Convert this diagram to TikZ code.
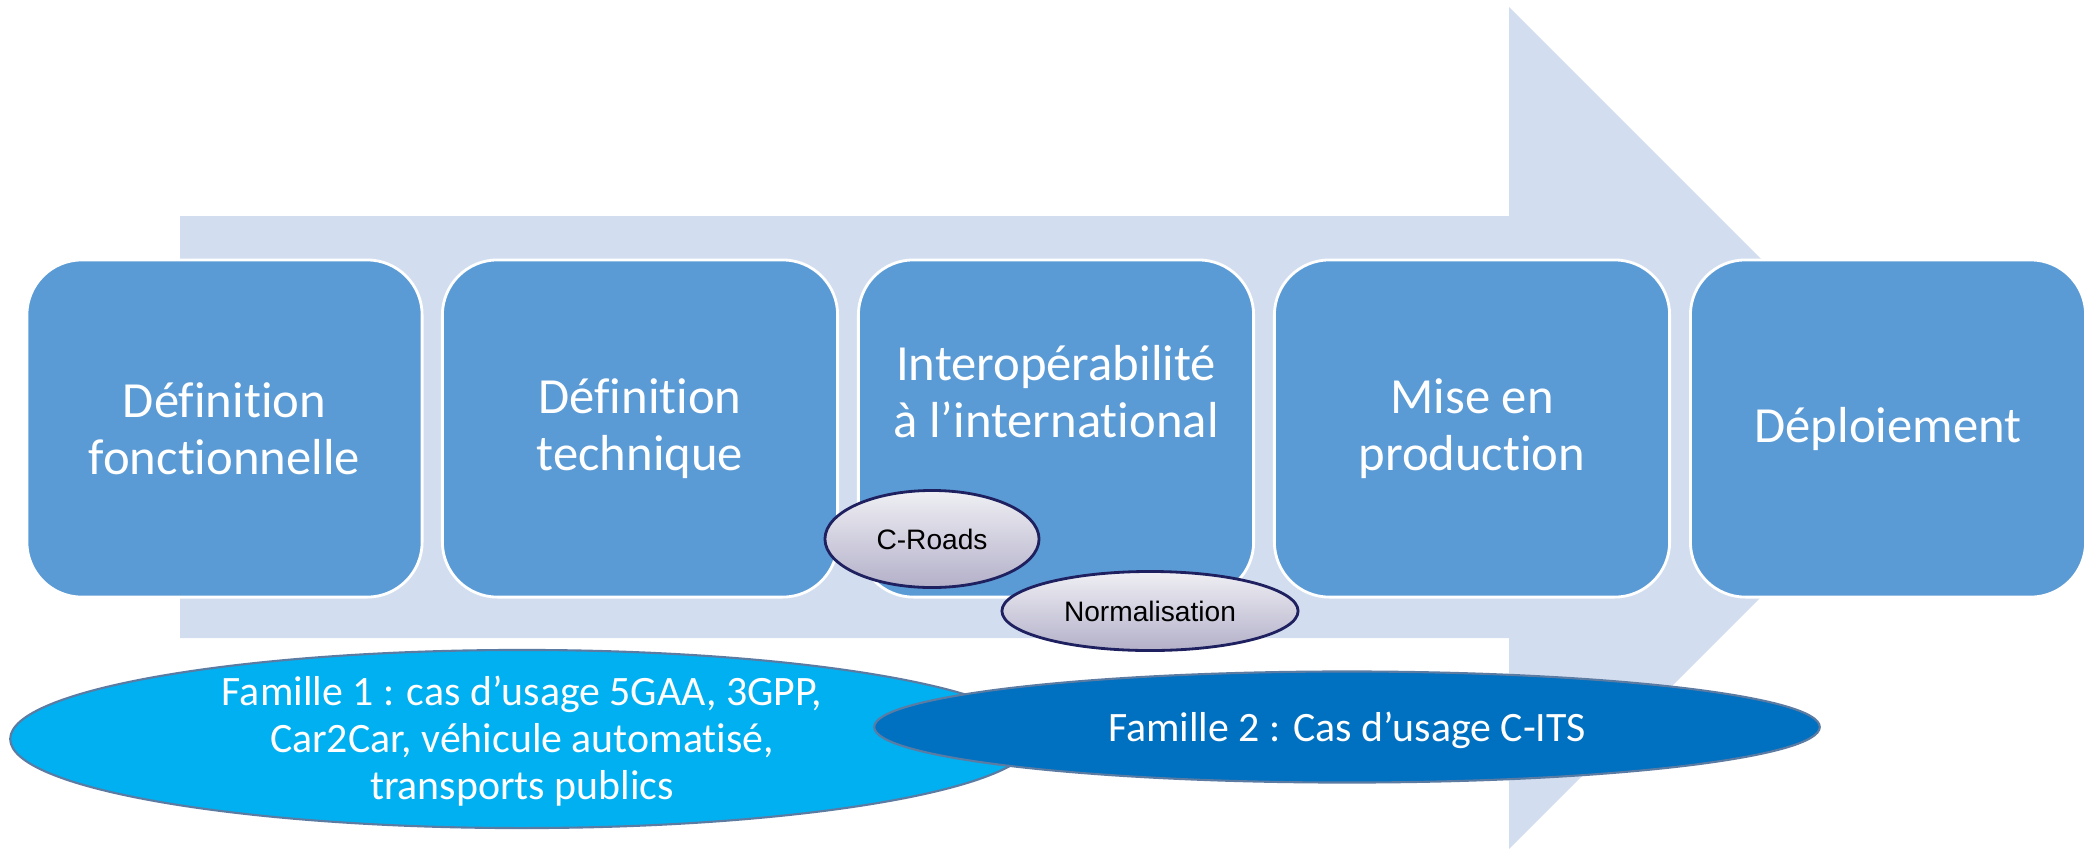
\documentclass[tikz,border=0pt]{standalone}
\usepackage{fontspec}
\setmainfont{Carlito}[Ligatures=NoCommon]
\newfontfamily\arialfont{Liberation Sans}
\usetikzlibrary{shapes.geometric}
\definecolor{arrowfill}{HTML}{D2DEEF}
\definecolor{boxfill}{HTML}{5B9BD5}
\definecolor{famA}{HTML}{00B0F0}
\definecolor{famB}{HTML}{0070C0}
\definecolor{famborder}{HTML}{5B7BA3}
\definecolor{ovtop}{HTML}{EFEFF4}
\definecolor{ovbot}{HTML}{B3B0C9}
\definecolor{ovborder}{HTML}{1F2060}
\begin{document}
\begin{tikzpicture}[x=0.01cm,y=-0.01cm,
  stage/.style={draw=white, line width=0.8pt, fill=boxfill, rounded corners=0.55cm, minimum width=3.95cm, minimum height=3.37cm, inner sep=0pt, text=white, align=center, font=\fontsize{14.4}{16.2}\selectfont},
  stagetext/.style={text=white, align=center, font=\fontsize{14.4}{16.2}\selectfont},
  tag/.style={ellipse, draw=ovborder, line width=0.8pt, top color=ovtop, bottom color=ovbot, inner sep=0pt, font=\arialfont\fontsize{8}{9.6}\selectfont},
  family/.style={ellipse, draw=famborder, line width=0.6pt, inner sep=0pt},
  familytext/.style={text=white, align=center, font=\fontsize{11.9}{13.4}\selectfont}
]
\useasboundingbox (0,0) rectangle (2094,848);
\fill[arrowfill] (180,216) -- (1509,216) -- (1509,7) -- (1930,428) -- (1509,849) -- (1509,638) -- (180,638) -- cycle;

\node[stage] (b1) at (224.5,428.5) {Définition\\fonctionnelle};
\node[stage] (b2) at (640,428.5) {Définition\\technique};
\node[stage] (b3) at (1056,428.5) {};
\node[stagetext] (b3t) at (1056,391.5) {Interopérabilité\\à l’international};
\node[stage] (b4) at (1472,428.5) {Mise en\\production};
\node[stage] (b5) at (1888,428.5) {Déploiement};

\node[tag, minimum width=2.14cm, minimum height=0.97cm] (croads) at (932,539) {C-Roads};
\node[tag, minimum width=2.96cm, minimum height=0.79cm] (norm) at (1150,611) {Normalisation};

\node[family, fill=famA, minimum width=10.23cm, minimum height=1.78cm] (f1) at (522,739) {};
\node[familytext] (f1t) at (522,741) {Famille 1 : cas d’usage 5GAA, 3GPP,\\Car2Car, véhicule automatisé,\\transports publics};
\node[family, fill=famB, minimum width=9.45cm, minimum height=1.11cm] (f2) at (1347,727) {};
\node[familytext] (f2t) at (1347,730) {Famille 2 : Cas d’usage C-ITS};
\end{tikzpicture}
\end{document}
